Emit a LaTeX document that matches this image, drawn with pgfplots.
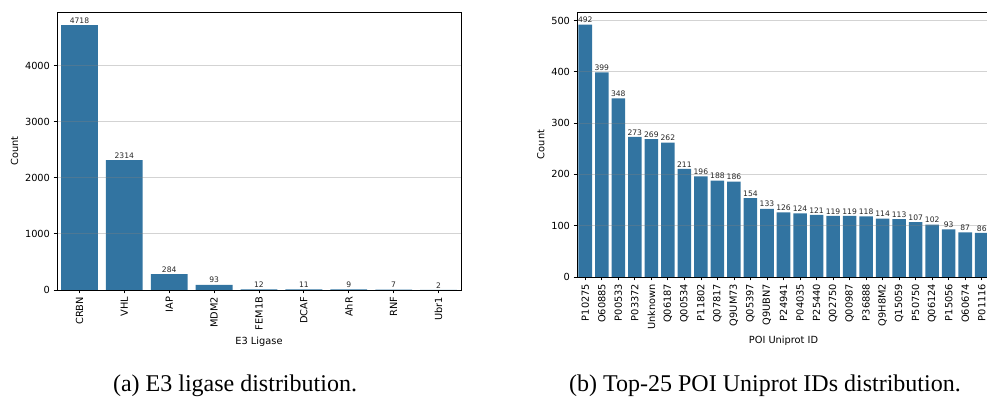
\documentclass[border=0pt]{standalone}
\usepackage{pgfplots}
\pgfplotsset{compat=1.18}
\usepackage{pgfplotstable}
\usepackage{fontspec}
\setmainfont{DejaVu Sans}
\newfontfamily\capfont{Liberation Serif}
\definecolor{sbblue}{RGB}{50,116,161}
\pgfplotsset{
  /pgf/number format/assume math mode=true,
  /pgf/number format/1000 sep={},
  mybars/.style={
    scale only axis,
    axis on top,
    ymin=0,
    tick align=outside,
    major tick length=3.5pt,
    tick style={black, line width=0.8pt},
    axis line style={black, line width=0.8pt},
    xtick pos=bottom, ytick pos=left,
    ymajorgrids,
    grid style={gray, opacity=0.35, line width=0.8pt},
    tick label style={font=\fontsize{9.8}{11}\selectfont},
    label style={font=\fontsize{9.8}{11}\selectfont},
    x tick label style={rotate=90, anchor=east},
    xmajorgrids=false,
    clip=false,
  },
  mybar/.style={ybar, bar width=0.82, fill=sbblue, draw=none, bar shift=0pt, mark=none,
    nodes near coords,
    nodes near coords style={font=\fontsize{7.6}{9}\selectfont, anchor=south, inner sep=1.5pt, text=black!85},
  },
}
\pgfplotstableread{
x y
0 4718
1 2314
2 284
3 93
4 12
5 11
6 9
7 7
8 2
}\etable
\pgfplotstableread{
x y
0 492
1 399
2 348
3 273
4 269
5 262
6 211
7 196
8 188
9 186
10 154
11 133
12 126
13 124
14 121
15 119
16 119
17 118
18 114
19 113
20 107
21 102
22 93
23 87
24 86
}\ptable
\begin{document}
\begin{tikzpicture}
\useasboundingbox (0,0) rectangle (987pt,396pt);
\begin{axis}[mybars,
  at={(57pt,106pt)}, anchor=south west,
  width=404pt, height=278pt,
  xmin=-0.5, xmax=8.5, ymax=4954,
  ytick={0,1000,2000,3000,4000},
  xtick={0,...,8},
  xticklabels={CRBN,VHL,IAP,MDM2,FEM1B,DCAF,AhR,RNF,Ubr1},
  xlabel={E3 Ligase}, ylabel={Count},
]
\addplot[mybar] table[x=x,y=y] {\etable};
\end{axis}
\begin{axis}[mybars,
  at={(577pt,119pt)}, anchor=south west,
  width=413pt, height=265pt,
  xmin=-0.5, xmax=24.5, ymax=516.6,
  ytick={0,100,200,300,400,500},
  xtick={0,...,24},
  xticklabels={P10275,O60885,P00533,P03372,Unknown,Q06187,Q00534,P11802,Q07817,Q9UM73,Q05397,Q9UBN7,P24941,P04035,P25440,Q02750,Q00987,P36888,Q9H8M2,Q15059,P50750,Q06124,P15056,O60674,P01116},
  xlabel={POI Uniprot ID}, ylabel={Count},
]
\addplot[mybar] table[x=x,y=y] {\ptable};
\end{axis}
\node[anchor=base, font=\capfont\fontsize{24}{28}\selectfont, inner sep=0pt] at (235pt,4.5pt) {(a) E3 ligase distribution.};
\node[anchor=base, font=\capfont\fontsize{24}{28}\selectfont, inner sep=0pt] at (765pt,4.5pt) {(b) Top-25 POI Uniprot IDs distribution.};
\end{tikzpicture}
\end{document}
